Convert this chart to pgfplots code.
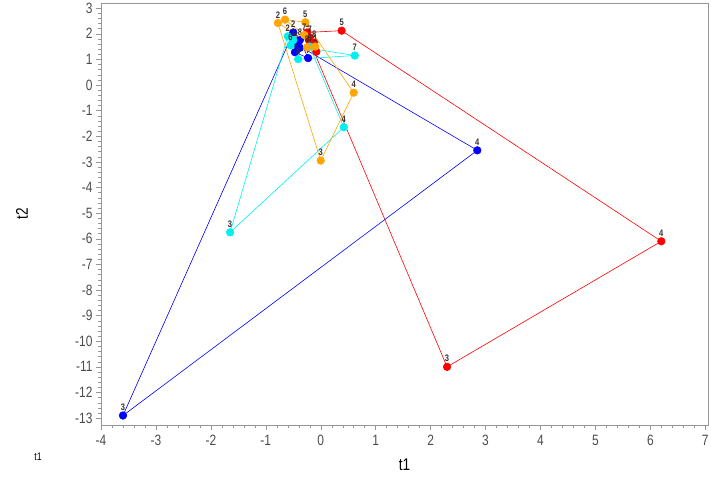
\documentclass[border=0pt]{standalone}
\usepackage{pgfplots}
\pgfplotsset{compat=1.18}
\usepackage{fontspec}
\setmainfont[FakeStretch=0.8]{Liberation Sans}
\usetikzlibrary{calc}
\definecolor{sred}{RGB}{255,0,0}
\definecolor{sblue}{RGB}{0,0,255}
\definecolor{scyan}{RGB}{0,240,240}
\definecolor{sorange}{RGB}{255,165,0}
\definecolor{axgray}{RGB}{150,150,150}
\begin{document}
\begin{tikzpicture}
\begin{axis}[
  name=ax,
  scale only axis,
  width=607bp, height=422bp,
  xmin=-4, xmax=7.05, ymin=-13.27, ymax=3.2,
  xtick={-4,...,7}, ytick={-13,...,3},
  minor x tick num=4, minor y tick num=4,
  xtick pos=left, ytick pos=left,
  tick align=outside,
  major tick length=5bp, minor tick length=3bp,
  axis line style={axgray},
  every tick/.style={axgray},
  tick label style={font=\fontsize{15}{17}\selectfont, text=black!70},
  xticklabel style={yshift=-2bp},
  /pgf/number format/assume math mode=true,
  xlabel={t1}, ylabel={t2},
  every axis x label/.style={at={(axis description cs:0.5,-0.095)}, anchor=center, font=\fontsize{17}{19}\selectfont},
  every axis y label/.style={at={(axis description cs:-0.13,0.5)}, anchor=center, rotate=90, font=\fontsize{17}{19}\selectfont},
  clip=false,
  nodes near coords,
  point meta=explicit symbolic,
  every node near coord/.style={font=\fontsize{9.5}{10}\selectfont\bfseries, text=black!80, anchor=south, yshift=3.5bp, inner sep=1bp},
]
\addplot[sred, line width=0.6pt, mark=*, mark size=3.8pt, mark options={solid, fill=sred, draw=sred}]
  table[meta=lab] {
x y lab
-0.08 1.30 1
-0.21 1.75 2
2.30 -11.00 3
6.20 -6.10 4
0.38 2.12 5
-0.25 2.05 6
-0.20 1.85 7
-0.12 1.65 8
};
\addplot[sblue, line width=0.6pt, mark=*, mark size=3.8pt, mark options={solid, fill=sblue, draw=sblue}]
  table[meta=lab] {
x y lab
-0.38 1.45 1
-0.50 2.05 2
-3.60 -12.90 3
2.85 -2.55 4
-0.45 1.60 5
-0.47 1.28 6
-0.23 1.05 7
-0.38 1.75 8
};
\addplot[scyan, line width=0.6pt, mark=*, mark size=3.8pt, mark options={solid, fill=scyan, draw=scyan}]
  table[meta=lab] {
x y lab
-0.50 1.75 1
-0.60 1.90 2
-1.65 -5.75 3
0.42 -1.65 4
-0.20 1.50 5
-0.55 1.55 6
0.62 1.15 7
-0.41 1.01 8
};
\addplot[sorange, line width=0.6pt, mark=*, mark size=3.8pt, mark options={solid, fill=sorange, draw=sorange}]
  table[meta=lab] {
x y lab
-0.10 1.50 1
-0.78 2.42 2
0.00 -2.95 3
0.60 -0.30 4
-0.28 2.45 5
-0.65 2.55 6
-0.30 1.95 7
-0.25 1.47 8
};
\end{axis}
\node[font=\fontsize{11}{12}\selectfont] at ($(ax.south west)+(-63bp,-32bp)$) {t1};
\pgfresetboundingbox
\path[use as bounding box] ($(ax.south west)+(-101bp,-57bp)$) rectangle ($(ax.north east)+(3bp,3bp)$);
\end{tikzpicture}
\end{document}
